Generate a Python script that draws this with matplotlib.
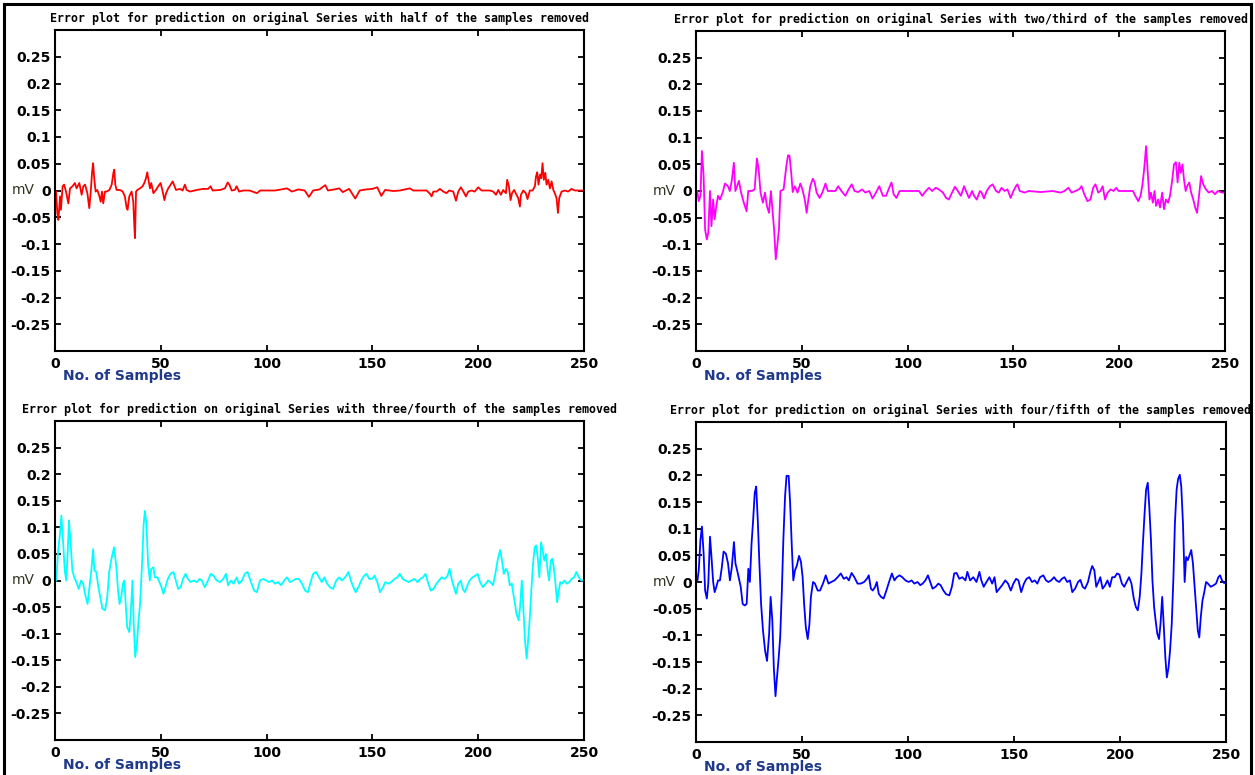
import numpy as np
import matplotlib.pyplot as plt
from matplotlib.lines import Line2D

plt.rcParams['axes.unicode_minus'] = False

# valores: (muestra, error en mV)
half_removed = [
    (0.5, -0.002), (1.1, -0.042), (1.6, -0.055), (2.4, -0.011), (2.8, -0.036), (3.6, 0.008),
    (4.3, 0.011), (5.2, -0.002), (6.3, -0.024), (7.1, 0.004), (8.3, 0.008), (9.4, 0.014),
    (10.2, 0.004), (11.5, 0.014), (12.6, -0.008), (13.4, 0.008), (14.2, 0.011), (15.3, -0.005),
    (16.2, -0.033), (16.9, -0.002), (17.5, 0.033), (18.0, 0.051), (18.6, 0.020), (19.2, -0.002),
    (20.0, 0.001), (21.0, -0.011), (21.6, -0.021), (22.2, -0.002), (22.8, -0.024), (23.6, -0.002),
    (24.4, -0.002), (25.7, 0.001), (26.8, 0.011), (27.6, 0.033), (28.0, 0.039), (28.5, 0.011),
    (29.1, 0.001), (30.7, 0.001), (32.0, -0.002), (33.0, -0.011), (33.9, -0.033), (34.3, -0.036),
    (35.1, -0.011), (36.2, -0.002), (37.0, -0.021), (37.5, -0.068), (37.8, -0.089), (38.3, -0.002),
    (38.9, 0.001), (40.2, 0.004), (41.4, 0.008), (42.2, 0.014), (43.0, 0.023), (43.6, 0.034),
    (44.3, 0.017), (44.9, 0.004), (45.5, 0.014), (46.5, -0.005), (47.7, 0.001), (48.8, 0.008),
    (49.9, 0.014), (50.9, -0.002), (51.7, -0.018), (52.5, -0.005), (53.5, 0.004), (54.7, 0.011),
    (55.6, 0.017), (56.2, 0.011), (57.2, 0.001), (59.0, 0.003), (60.3, 0.0), (61.4, 0.011),
    (62.2, 0.001), (63.8, -0.002), (67.0, 0.001), (70.0, 0.003), (72.4, 0.003), (73.5, 0.008),
    (74.5, 0.0), (78.0, 0.001), (80.3, 0.004), (81.6, 0.015), (82.4, 0.011), (83.5, 0.0),
    (85.0, 0.001), (85.8, 0.008), (87.0, -0.002), (89.0, 0.0), (92.0, 0.0), (95.4, -0.005),
    (97.0, 0.0), (100.0, 0.0), (104.0, 0.0), (107.0, 0.002), (109.6, 0.004), (112.0, -0.002),
    (115.0, 0.002), (118.0, 0.0), (120.0, -0.012), (122.0, 0.0), (125.0, 0.002), (127.7, 0.010),
    (129.0, 0.0), (132.0, 0.002), (134.3, 0.004), (136.0, -0.003), (139.0, 0.003), (141.9, -0.015),
    (144.0, 0.0), (147.0, 0.002), (150.0, 0.003), (152.3, 0.006), (154.2, -0.010), (156.0, 0.001),
    (160.0, -0.001), (163.0, 0.0), (167.7, 0.004), (169.3, 0.0), (175.6, 0.0), (177.2, -0.006),
    (178.0, -0.011), (178.8, -0.002), (180.3, -0.002), (181.9, 0.003), (183.5, -0.002), (185.0, -0.005),
    (186.3, 0.0), (188.2, -0.002), (189.5, -0.019), (190.6, -0.002), (191.8, 0.006), (193.0, -0.002),
    (194.2, -0.011), (195.3, -0.002), (196.9, 0.0), (198.4, -0.002), (200.0, 0.006), (201.6, 0.0),
    (205.5, 0.0), (207.1, -0.002), (208.4, -0.008), (209.5, 0.001), (210.7, -0.008), (211.8, 0.001),
    (213.1, -0.005), (213.7, 0.020), (214.5, 0.008), (215.3, -0.018), (216.0, -0.005), (217.0, 0.001),
    (218.1, -0.008), (218.9, -0.014), (219.7, -0.030), (220.2, -0.008), (221.3, 0.0), (222.5, -0.005),
    (223.3, -0.016), (224.4, 0.0), (225.7, 0.0), (226.8, 0.008), (227.3, 0.026), (227.9, 0.034),
    (228.5, 0.011), (229.2, 0.030), (229.8, 0.023), (230.4, 0.051), (231.0, 0.020), (231.7, 0.033),
    (232.3, 0.011), (233.1, 0.020), (233.9, 0.004), (234.7, 0.017), (235.5, 0.001), (236.2, -0.005),
    (237.0, -0.014), (237.7, -0.042), (238.3, -0.014), (239.4, -0.002), (241.0, 0.0), (242.5, -0.002),
    (244.1, 0.003), (245.7, 0.0), (248.0, 0.0), (249.6, 0.0),
]

two_third_removed = [
    (0.6, 0.0), (1.3, -0.019), (2.1, -0.009), (2.8, 0.075), (3.6, 0.028), (4.3, -0.072),
    (5.1, -0.091), (5.8, -0.078), (6.6, 0.0), (7.3, -0.066), (8.1, -0.016), (8.8, -0.053),
    (9.6, -0.028), (10.4, -0.009), (11.3, -0.016), (12.6, -0.003), (13.7, 0.014), (15.1, 0.009),
    (16.0, 0.0), (16.9, 0.019), (17.9, 0.053), (18.6, 0.0), (19.4, 0.009), (20.3, 0.019),
    (21.3, -0.003), (22.6, -0.022), (23.9, -0.038), (24.7, 0.0), (26.4, 0.0), (27.7, 0.003),
    (28.8, 0.061), (29.6, 0.041), (30.5, -0.003), (31.6, -0.022), (32.6, -0.003), (33.5, -0.028),
    (34.5, -0.041), (35.4, 0.0), (36.1, -0.034), (36.9, -0.072), (37.7, -0.128), (38.4, -0.103),
    (39.2, -0.072), (39.9, 0.0), (41.4, 0.003), (42.7, 0.047), (43.5, 0.067), (44.2, 0.066),
    (45.0, 0.034), (45.7, -0.002), (46.7, 0.009), (48.0, -0.003), (49.3, 0.014), (50.3, 0.003),
    (51.4, -0.016), (52.3, -0.041), (53.1, -0.016), (54.0, 0.009), (55.2, 0.023), (56.1, 0.016),
    (57.0, -0.003), (58.4, -0.013), (59.7, -0.003), (61.2, 0.014), (62.3, 0.0), (64.0, 0.0),
    (65.9, 0.0), (67.2, 0.009), (68.7, 0.0), (70.6, -0.009), (72.1, 0.003), (73.6, 0.0125),
    (74.9, 0.0), (76.6, -0.002), (78.5, 0.003), (80.0, -0.003), (81.9, 0.0), (83.4, -0.014),
    (84.9, -0.004), (86.6, 0.009), (88.3, -0.009), (89.8, -0.009), (91.3, 0.006), (92.4, 0.016),
    (93.4, -0.006), (94.7, -0.013), (96.2, 0.0), (98.8, 0.0), (102.6, 0.0), (105.4, 0.0),
    (106.9, -0.009), (108.6, 0.0), (110.1, 0.006), (111.6, 0.0), (113.3, 0.006), (114.8, 0.003),
    (116.7, -0.003), (118.2, -0.013), (119.5, -0.016), (121.0, -0.003), (122.4, 0.008), (123.7, 0.0),
    (125.2, -0.009), (126.7, 0.009), (127.6, 0.0), (129.0, -0.013), (130.5, 0.0), (131.4, -0.009),
    (132.7, -0.016), (134.2, 0.0), (135.0, -0.003), (136.1, -0.014), (137.4, 0.0), (138.9, 0.009),
    (140.2, 0.0125), (141.8, 0.0), (143.1, -0.003), (144.4, 0.006), (145.9, 0.0), (147.2, 0.003),
    (148.7, -0.013), (150.0, 0.0), (151.2, 0.009), (151.9, 0.0125), (153.0, 0.0), (155.3, -0.003),
    (157.2, 0.0), (162.8, -0.002), (168.5, 0.0), (172.3, -0.003), (174.1, 0.0), (176.0, 0.006),
    (177.5, -0.003), (179.4, 0.0), (181.3, 0.004), (182.2, 0.009), (183.5, -0.006), (185.0, -0.019),
    (186.4, -0.016), (187.7, 0.006), (188.8, 0.0125), (190.1, -0.003), (191.1, 0.0), (192.2, 0.009),
    (193.3, -0.016), (194.5, -0.003), (196.0, 0.003), (197.3, 0.0), (198.6, 0.006), (199.7, 0.0),
    (201.4, 0.0), (204.3, 0.0), (206.5, 0.0), (207.6, -0.009), (209.0, -0.019), (210.1, -0.009),
    (211.0, 0.0125), (211.8, 0.041), (212.7, 0.084), (213.5, 0.034), (214.3, -0.016), (215.0, -0.003),
    (215.9, -0.022), (216.7, 0.0), (217.4, -0.028), (218.4, -0.016), (219.3, -0.031), (220.3, -0.003),
    (221.2, -0.034), (222.1, -0.016), (223.1, -0.022), (224.0, -0.009), (225.0, 0.019), (225.9, 0.050),
    (226.8, 0.054), (227.6, 0.016), (228.4, 0.053), (229.1, 0.034), (229.9, 0.050), (230.6, 0.022),
    (231.4, 0.0), (232.1, 0.009), (233.1, 0.016), (234.0, -0.003), (235.0, -0.016), (235.9, -0.031),
    (236.8, -0.041), (237.8, -0.006), (238.7, 0.028), (239.7, 0.0125), (241.0, 0.003), (242.3, -0.003),
    (243.8, 0.0), (245.3, -0.006), (246.6, 0.0), (248.5, -0.003), (250.0, -0.003),
]

three_fourth_removed = [
    (0.6, 0.0), (1.5, 0.056), (2.5, 0.094), (3.0, 0.122), (3.8, 0.075), (4.6, 0.019),
    (5.3, 0.0), (5.9, 0.044), (6.6, 0.113), (7.4, 0.069), (8.2, 0.019), (9.1, 0.006),
    (10.1, -0.003), (11.2, -0.016), (12.3, 0.0), (13.3, -0.006), (14.2, -0.025), (15.4, -0.044),
    (16.3, -0.0125), (17.3, 0.025), (18.0, 0.059), (18.6, 0.019), (19.5, 0.016), (20.5, -0.0125),
    (21.4, -0.031), (22.4, -0.053), (23.7, -0.056), (24.7, -0.031), (25.6, 0.016), (26.7, 0.041),
    (27.9, 0.0625), (29.0, 0.025), (29.8, -0.019), (30.5, -0.044), (31.3, -0.031), (32.1, -0.006),
    (32.8, 0.0), (33.4, -0.044), (34.1, -0.0875), (35.1, -0.097), (35.8, -0.0625), (36.6, 0.0),
    (37.2, -0.081), (37.9, -0.144), (38.7, -0.119), (39.5, -0.075), (40.2, -0.044), (41.0, 0.019),
    (41.9, 0.106), (42.5, 0.131), (43.2, 0.106), (44.0, 0.031), (44.8, 0.0), (45.5, 0.022),
    (46.5, 0.025), (47.2, 0.006), (48.4, 0.006), (49.3, -0.003), (50.3, -0.0125), (51.2, -0.025),
    (52.2, -0.0125), (53.3, 0.003), (54.6, 0.0125), (56.0, 0.016), (57.1, 0.0), (58.2, -0.016),
    (59.4, -0.0125), (60.5, 0.003), (61.7, 0.0125), (62.8, 0.003), (64.1, -0.003), (65.4, 0.0),
    (67.0, -0.003), (68.3, 0.003), (69.4, 0.0), (70.8, -0.0125), (72.3, 0.0), (73.6, 0.0125),
    (74.9, 0.009), (76.4, 0.0), (78.0, -0.003), (79.5, 0.003), (80.8, 0.0125), (81.8, -0.009),
    (83.1, 0.0), (84.4, -0.006), (85.9, 0.006), (86.9, -0.006), (88.4, 0.0), (89.7, 0.0125),
    (91.0, 0.016), (92.6, -0.003), (94.1, -0.019), (95.4, -0.022), (96.9, 0.0), (98.3, 0.003),
    (99.8, 0.0), (101.1, -0.003), (102.6, 0.0), (103.9, -0.006), (105.5, -0.003), (106.8, -0.009),
    (108.3, 0.0), (109.6, 0.006), (111.0, -0.003), (112.5, 0.0), (113.8, 0.003), (115.3, 0.003),
    (116.7, -0.006), (118.2, -0.019), (119.5, -0.022), (120.6, -0.006), (122.0, 0.0125), (123.3, 0.016),
    (124.8, 0.006), (126.1, -0.003), (127.3, 0.006), (128.6, -0.006), (129.9, -0.0125), (131.4, -0.016),
    (132.9, 0.0), (134.3, 0.006), (135.6, 0.0), (137.1, 0.006), (138.7, 0.016), (139.8, 0.0),
    (141.0, -0.0125), (142.1, -0.022), (143.4, -0.0125), (144.7, 0.0), (146.1, 0.009), (147.2, 0.0125),
    (148.5, 0.003), (149.8, 0.003), (151.0, 0.009), (152.3, -0.003), (153.6, -0.022), (155.0, -0.0125),
    (156.1, -0.003), (157.6, -0.006), (158.9, -0.003), (160.5, 0.003), (161.8, 0.006), (162.9, 0.0125),
    (164.3, 0.003), (165.6, 0.0), (167.1, -0.003), (168.4, 0.0), (169.8, 0.003), (171.3, -0.003),
    (172.6, 0.003), (173.9, 0.006), (175.1, 0.0125), (176.2, -0.003), (177.6, -0.019), (178.9, -0.016),
    (180.2, -0.006), (181.5, 0.0), (182.7, 0.006), (184.2, 0.003), (185.5, 0.009), (186.5, 0.022),
    (187.6, 0.0), (188.5, -0.0125), (189.5, -0.025), (190.6, -0.006), (191.8, 0.0), (192.7, -0.016),
    (193.7, -0.022), (194.6, -0.0125), (195.9, 0.0), (197.3, 0.006), (198.6, 0.009), (199.7, 0.0125),
    (200.9, -0.003), (202.2, -0.0125), (203.5, -0.006), (204.7, 0.0), (205.8, -0.003), (207.0, -0.009),
    (208.1, 0.0125), (209.3, 0.041), (210.4, 0.0575), (211.1, 0.041), (212.1, 0.0125), (213.0, 0.022),
    (214.0, 0.016), (214.9, -0.009), (215.9, -0.006), (216.6, -0.025), (217.4, -0.044), (218.1, -0.0625),
    (219.1, -0.075), (219.8, -0.050), (220.6, 0.0), (221.4, -0.056), (222.1, -0.1125), (222.9, -0.147),
    (223.6, -0.1125), (224.4, -0.069), (225.1, -0.019), (225.9, 0.031), (226.7, 0.0625), (227.4, 0.066),
    (228.2, 0.041), (228.9, 0.006), (229.7, 0.072), (230.5, 0.056), (231.2, 0.0375), (232.0, 0.050),
    (232.8, 0.019), (233.5, 0.0), (234.3, 0.0375), (235.0, 0.041), (235.8, 0.022), (236.5, -0.006),
    (237.3, -0.041), (238.1, -0.019), (238.8, -0.003), (239.6, -0.006), (240.7, 0.0), (241.9, -0.006),
    (243.0, -0.003), (244.1, 0.003), (245.3, 0.006), (246.4, 0.016), (247.5, 0.006), (248.7, 0.0),
    (249.6, 0.0),
]

four_fifth_removed = [
    (0.6, 0.0), (1.3, 0.022), (2.1, 0.079), (2.8, 0.104), (3.6, 0.053), (4.3, -0.016),
    (5.1, -0.031), (5.8, -0.003), (6.6, 0.085), (7.3, 0.047), (8.1, 0.0), (8.8, -0.019),
    (9.6, -0.009), (10.4, 0.003), (11.3, 0.003), (12.2, 0.028), (13.0, 0.057), (14.1, 0.053),
    (15.1, 0.035), (16.0, 0.003), (16.9, 0.028), (17.9, 0.075), (18.6, 0.035), (19.4, 0.022),
    (20.1, 0.009), (21.1, -0.009), (22.0, -0.041), (23.0, -0.044), (23.9, -0.041), (24.7, 0.025),
    (25.4, 0.0), (26.2, 0.072), (26.9, 0.113), (27.7, 0.167), (28.4, 0.179), (29.2, 0.110),
    (29.9, 0.035), (30.7, -0.041), (31.6, -0.091), (32.6, -0.129), (33.5, -0.148), (34.5, -0.097),
    (35.2, -0.028), (36.0, -0.072), (36.7, -0.160), (37.5, -0.214), (38.2, -0.179), (39.0, -0.142),
    (39.7, -0.104), (40.5, -0.016), (41.2, 0.079), (42.0, 0.160), (42.7, 0.199), (43.7, 0.199),
    (44.4, 0.148), (45.2, 0.066), (45.9, 0.003), (46.7, 0.022), (47.6, 0.031), (48.6, 0.049),
    (49.5, 0.038), (50.3, 0.009), (51.0, -0.041), (51.8, -0.085), (52.7, -0.107), (53.5, -0.079),
    (54.2, -0.028), (55.2, 0.0), (56.1, -0.003), (57.4, -0.016), (58.5, -0.016), (59.9, -0.003),
    (61.2, 0.0125), (62.5, -0.003), (63.8, 0.0), (65.3, 0.003), (66.8, 0.009), (68.3, 0.016),
    (69.7, 0.006), (71.0, 0.009), (72.1, 0.003), (73.4, 0.017), (74.7, 0.009), (76.2, -0.003),
    (77.7, -0.003), (79.3, 0.0), (80.6, 0.006), (81.5, 0.0125), (82.5, -0.0125), (83.4, -0.016),
    (84.5, -0.009), (85.3, 0.0), (86.2, -0.022), (87.3, -0.028), (88.5, -0.031), (89.8, -0.016),
    (91.3, 0.003), (92.4, 0.016), (93.6, 0.003), (94.7, 0.009), (96.0, 0.0125), (97.3, 0.009),
    (98.8, 0.003), (100.3, 0.0), (101.7, 0.003), (103.0, -0.003), (104.5, 0.0), (105.8, -0.006),
    (106.9, -0.003), (108.2, 0.003), (109.4, 0.0125), (110.5, 0.0), (111.6, -0.0125), (113.0, -0.009),
    (114.3, -0.003), (115.4, -0.006), (116.7, -0.016), (118.0, -0.023), (119.5, -0.025), (120.7, -0.009),
    (121.8, 0.016), (122.9, 0.017), (124.2, 0.006), (125.6, 0.009), (127.1, 0.003), (128.0, 0.019),
    (129.3, 0.003), (130.8, 0.009), (132.3, 0.0), (133.7, 0.019), (134.6, 0.003), (135.7, -0.009),
    (137.0, 0.0), (138.4, 0.009), (139.7, -0.003), (140.8, 0.009), (141.8, -0.019), (143.1, -0.0125),
    (144.4, -0.006), (145.9, 0.003), (147.2, -0.003), (148.5, -0.016), (149.7, -0.003), (151.0, 0.006),
    (152.1, 0.003), (153.4, -0.019), (154.7, -0.003), (155.9, 0.006), (157.2, 0.009), (158.5, 0.0),
    (159.8, 0.003), (161.0, -0.003), (162.3, 0.009), (163.8, 0.0125), (165.1, 0.003), (166.2, 0.0),
    (167.5, 0.003), (168.9, 0.009), (170.0, 0.003), (171.3, 0.0), (172.6, 0.006), (173.8, 0.009),
    (175.1, 0.0), (176.4, 0.003), (177.5, -0.019), (178.8, -0.0125), (180.2, 0.0), (181.3, 0.004),
    (182.4, -0.009), (183.5, -0.0125), (184.9, 0.0), (186.0, 0.019), (186.9, 0.030), (187.9, 0.022),
    (188.8, -0.009), (189.8, 0.0), (190.7, 0.009), (191.8, -0.0125), (193.0, -0.006), (194.1, 0.003),
    (195.2, -0.009), (196.3, 0.009), (197.5, 0.009), (198.6, 0.016), (199.7, 0.014), (200.9, -0.003),
    (202.0, -0.009), (203.1, 0.0), (204.3, 0.009), (205.4, -0.003), (206.5, -0.031), (207.5, -0.047),
    (208.4, -0.053), (209.3, -0.028), (210.1, 0.016), (210.8, 0.072), (211.6, 0.129), (212.3, 0.173),
    (213.1, 0.186), (213.8, 0.142), (214.6, 0.079), (215.3, 0.003), (216.1, -0.047), (216.8, -0.072),
    (217.6, -0.097), (218.4, -0.107), (219.1, -0.079), (219.9, -0.028), (220.6, -0.079), (221.4, -0.142),
    (222.1, -0.179), (222.9, -0.160), (223.6, -0.129), (224.4, -0.079), (225.2, 0.009), (225.9, 0.110),
    (226.7, 0.173), (227.4, 0.193), (228.2, 0.201), (228.9, 0.179), (229.7, 0.110), (230.5, 0.0),
    (231.2, 0.047), (232.0, 0.041), (232.7, 0.049), (233.6, 0.060), (234.4, 0.035), (235.1, -0.003),
    (235.9, -0.047), (236.7, -0.091), (237.4, -0.104), (238.1, -0.066), (238.9, -0.035), (239.6, -0.022),
    (240.6, 0.0), (241.5, -0.003), (242.8, -0.009), (244.2, -0.006), (245.3, -0.003), (246.4, 0.009),
    (247.2, 0.0125), (248.1, 0.003), (249.1, -0.002), (250.0, 0.0),
]

titles = [
    "Error plot for prediction on original Series with half of the samples removed",
    "Error plot for prediction on original Series with two/third of the samples removed",
    "Error plot for prediction on original Series with three/fourth of the samples removed",
    "Error plot for prediction on original Series with four/fifth of the samples removed",
]
series = [half_removed, two_third_removed, three_fourth_removed, four_fifth_removed]
colors = ['#ff0000', '#ff00ff', '#00ffff', '#0000ff']
yticks = [-0.25, -0.2, -0.15, -0.1, -0.05, 0, 0.05, 0.1, 0.15, 0.2, 0.25]
xticks = [0, 50, 100, 150, 200, 250]

W, H = 1255, 775
fig = plt.figure(figsize=(W / 100, H / 100), dpi=100)

# cajas de los ejes en pixeles (izq, arriba, der, abajo)
boxes = [(55, 30, 584, 351), (696, 31, 1225, 351), (55, 421, 584, 740), (696, 422, 1226, 742)]

for box, data, col, title in zip(boxes, series, colors, titles):
    l, t, r, b = box
    ax = fig.add_axes([l / W, 1 - b / H, (r - l) / W, (b - t) / H])
    xs, ys = np.array(data).T
    ax.plot(xs, ys, color=col, lw=1.3)
    ax.set_xlim(0, 250)
    ax.set_ylim(-0.3, 0.3)
    ax.set_xticks(xticks)
    ax.set_xticklabels([str(v) for v in xticks])
    ax.set_yticks(yticks)
    ax.set_yticklabels(['%g' % v for v in yticks])
    ax.tick_params(direction='in', top=True, right=True, length=4, width=1.3,
                   labelsize=10, pad=3)
    ax.tick_params(axis='x', pad=4)
    for lab in ax.get_xticklabels() + ax.get_yticklabels():
        lab.set_fontweight('bold')
    for sp in ax.spines.values():
        sp.set_linewidth(1.5)
    ax.set_title(title, fontsize=8.4, fontweight='bold', family='DejaVu Sans Mono', pad=6)
    ax.set_ylabel('mV', rotation=0, fontsize=10, color='#333322', va='center', ha='center')
    ax.yaxis.set_label_coords(-0.06, 0.5)
    ax.text(0.015, -0.078, 'No. of Samples', transform=ax.transAxes, fontsize=10,
            fontweight='bold', color='#1f3a8a', ha='left', va='center',
            family=['Liberation Sans Narrow', 'DejaVu Sans'])

# marco negro alrededor de la figura
frame = dict(color='black', lw=2.2, transform=fig.transFigure)
fig.add_artist(Line2D([4 / W, 4 / W], [0, 1 - 4 / H], **frame))
fig.add_artist(Line2D([4 / W, 1 - 4 / W], [1 - 4 / H, 1 - 4 / H], **frame))
fig.add_artist(Line2D([1 - 4 / W, 1 - 4 / W], [0, 1 - 4 / H], **frame))

fig.savefig('out.png', dpi=100)
